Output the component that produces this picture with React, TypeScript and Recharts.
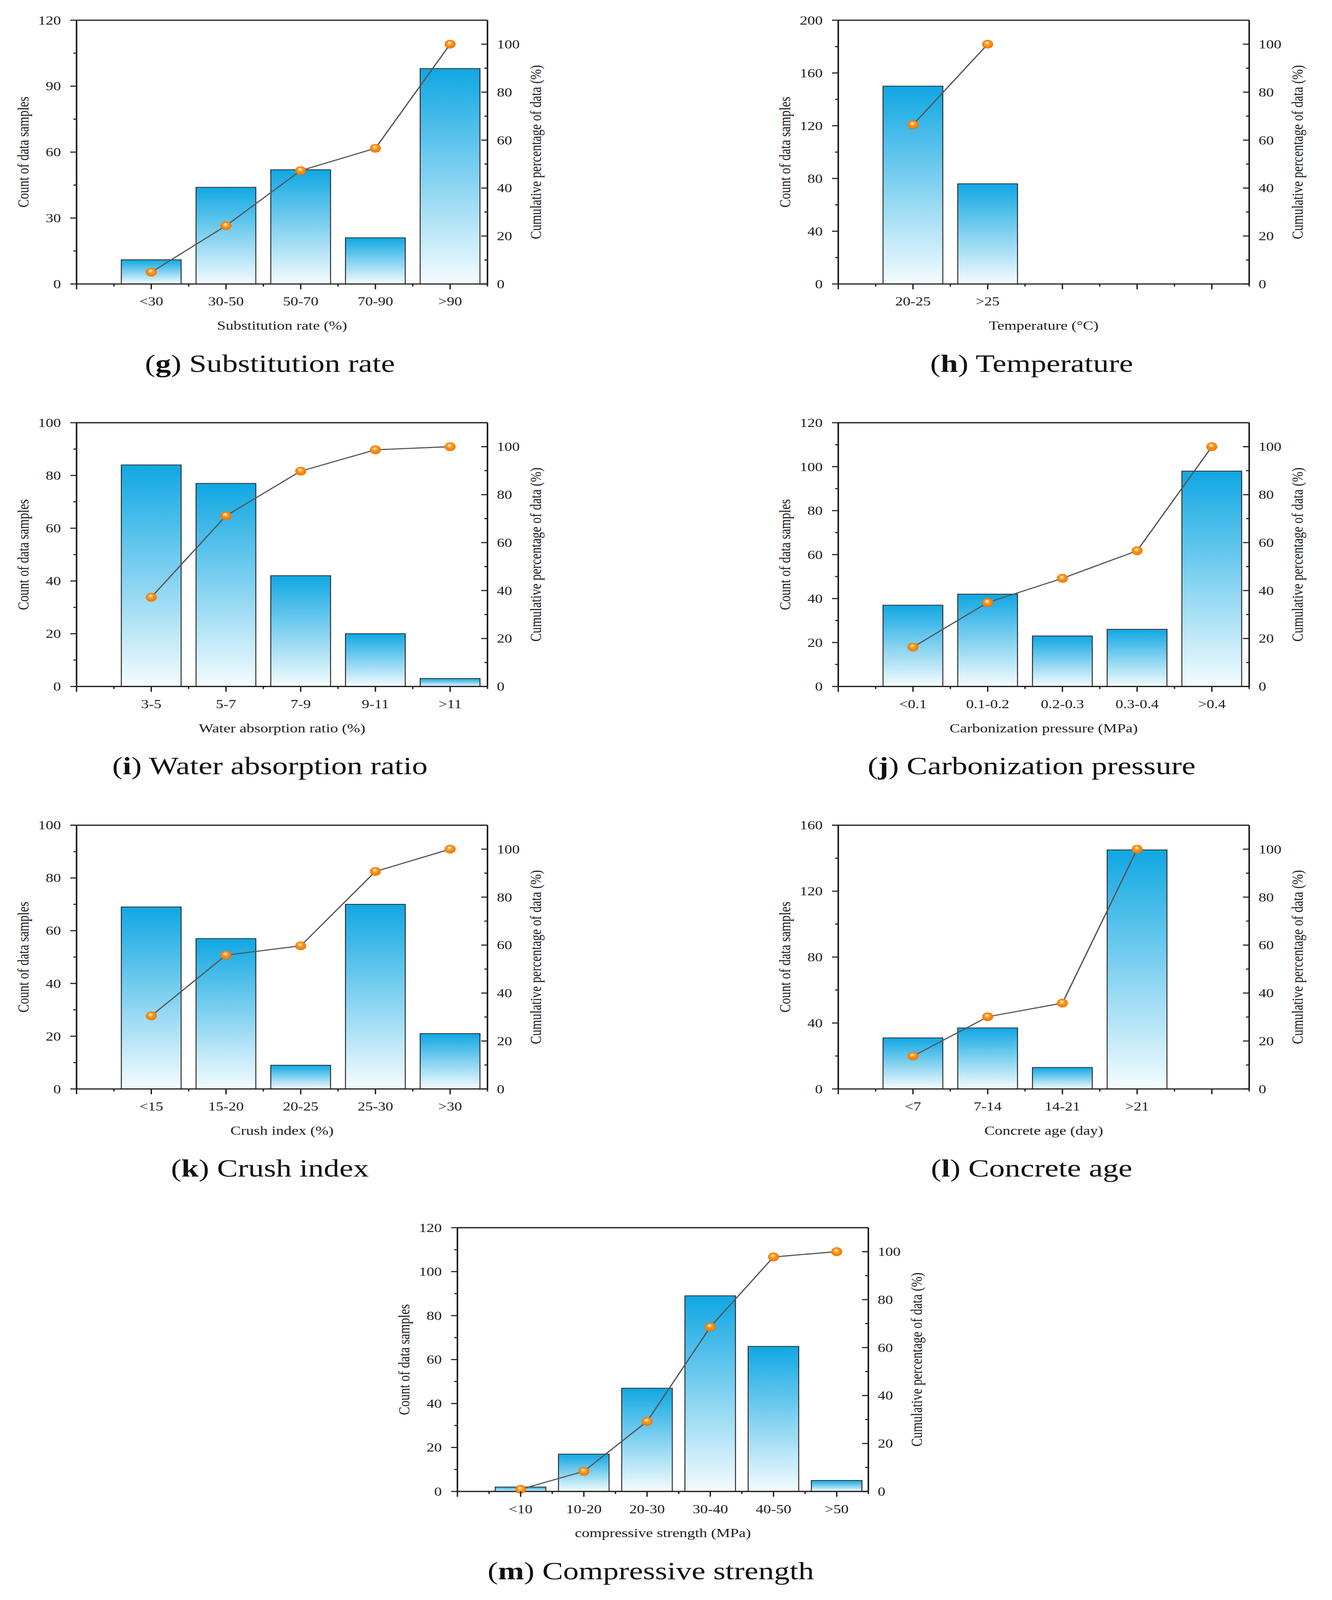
import React, { useEffect, useState } from 'react'
import { ComposedChart, Bar, Line, XAxis, YAxis, ReferenceLine, Label } from 'recharts'

// ---- data ----
const subCats = ['<30', '30-50', '50-70', '70-90', '>90']
const subCounts = [11, 44, 52, 21, 98]
const subCum = [4.9, 24.3, 47.3, 56.6, 100]
const subLeftTicks = [0, 30, 60, 90, 120]
const subLeftMinor = [15, 45, 75, 105]

const tempCats = ['20-25', '>25']
const tempCounts = [150, 76]
const tempCum = [66.4, 100]
const tempLeftTicks = [0, 40, 80, 120, 160, 200]
const tempLeftMinor = [20, 60, 100, 140, 180]

const waterCats = ['3-5', '5-7', '7-9', '9-11', '>11']
const waterCounts = [84, 77, 42, 20, 3]
const waterCum = [37.2, 71.2, 89.8, 98.7, 100]
const waterLeftTicks = [0, 20, 40, 60, 80, 100]
const waterLeftMinor = [10, 30, 50, 70, 90]

const carbCats = ['<0.1', '0.1-0.2', '0.2-0.3', '0.3-0.4', '>0.4']
const carbCounts = [37, 42, 23, 26, 98]
const carbCum = [16.4, 35.0, 45.1, 56.6, 100]
const carbLeftTicks = [0, 20, 40, 60, 80, 100, 120]
const carbLeftMinor = [10, 30, 50, 70, 90, 110]

const crushCats = ['<15', '15-20', '20-25', '25-30', '>30']
const crushCounts = [69, 57, 9, 70, 21]
const crushCum = [30.5, 55.8, 59.7, 90.7, 100]
const crushLeftTicks = [0, 20, 40, 60, 80, 100]
const crushLeftMinor = [10, 30, 50, 70, 90]

const ageCats = ['<7', '7-14', '14-21', '>21']
const ageCounts = [31, 37, 13, 145]
const ageCum = [13.7, 30.1, 35.8, 100]
const ageLeftTicks = [0, 40, 80, 120, 160]
const ageLeftMinor = [20, 60, 100, 140]

const strCats = ['<10', '10-20', '20-30', '30-40', '40-50', '>50']
const strCounts = [2, 17, 47, 89, 66, 5]
const strCum = [0.9, 8.4, 29.2, 68.6, 97.8, 100]
const strLeftTicks = [0, 20, 40, 60, 80, 100, 120]
const strLeftMinor = [10, 30, 50, 70, 90, 110]

const pctTicks = [0, 20, 40, 60, 80, 100]
const pctMinor = [10, 30, 50, 70, 90]
const pctMax = 110

const xMajor5 = [0, 1, 2, 3, 4, 5]
const xMinor5 = [0.5, 1.5, 2.5, 3.5, 4.5, 5.5]
const xMajor6 = [0, 1, 2, 3, 4, 5, 6]
const xMinor6 = [0.5, 1.5, 2.5, 3.5, 4.5, 5.5, 6.5]

// ---- layout ----
const PAGE_W = 3410
const PAGE_H = 5144
const PLOT_W = 1052
const PLOT_H = 848
const AXIS_W = 180
const M = { top: 40, right: 20, bottom: 10, left: 20 }
const XAXIS_H = 200
const CHART_W = M.left + AXIS_W + PLOT_W + AXIS_W + M.right
const CHART_H = M.top + PLOT_H + XAXIS_H + M.bottom

const FONT = '"Liberation Serif", "Times New Roman", serif'
const INK = '#1e1e1e'
const AXIS_STROKE = 4
const T_MAJOR = 16
const T_MINOR = 8
const T_GAP_L = 24
const T_GAP_R = 8
const T_GAP_B = 25

const COL = [196, 2146]
const ROW = [65, 1359, 2653, 3947]

const panels = [
  { id: 'g', caption: 'Substitution rate', xLabel: 'Substitution rate (%)', cats: subCats, counts: subCounts, cum: subCum, lt: subLeftTicks, lm: subLeftMinor, xMax: 5.5, xMj: xMajor5, xMn: xMinor5, left: COL[0], top: ROW[0] },
  { id: 'h', caption: 'Temperature', xLabel: 'Temperature (°C)', cats: tempCats, counts: tempCounts, cum: tempCum, lt: tempLeftTicks, lm: tempLeftMinor, xMax: 5.5, xMj: xMajor5, xMn: xMinor5, left: COL[1], top: ROW[0] },
  { id: 'i', caption: 'Water absorption ratio', xLabel: 'Water absorption ratio (%)', cats: waterCats, counts: waterCounts, cum: waterCum, lt: waterLeftTicks, lm: waterLeftMinor, xMax: 5.5, xMj: xMajor5, xMn: xMinor5, left: COL[0], top: ROW[1] },
  { id: 'j', caption: 'Carbonization pressure', xLabel: 'Carbonization pressure (MPa)', cats: carbCats, counts: carbCounts, cum: carbCum, lt: carbLeftTicks, lm: carbLeftMinor, xMax: 5.5, xMj: xMajor5, xMn: xMinor5, left: COL[1], top: ROW[1] },
  { id: 'k', caption: 'Crush index', xLabel: 'Crush index (%)', cats: crushCats, counts: crushCounts, cum: crushCum, lt: crushLeftTicks, lm: crushLeftMinor, xMax: 5.5, xMj: xMajor5, xMn: xMinor5, left: COL[0], top: ROW[2] },
  { id: 'l', caption: 'Concrete age', xLabel: 'Concrete age (day)', cats: ageCats, counts: ageCounts, cum: ageCum, lt: ageLeftTicks, lm: ageLeftMinor, xMax: 5.5, xMj: xMajor5, xMn: xMinor5, left: COL[1], top: ROW[2] },
  { id: 'm', caption: 'Compressive strength', xLabel: 'compressive strength (MPa)', cats: strCats, counts: strCounts, cum: strCum, lt: strLeftTicks, lm: strLeftMinor, xMax: 6.5, xMj: xMajor6, xMn: xMinor6, left: 1171, top: ROW[3] },
]

const tickText = { fontFamily: FONT, fontSize: 39, fill: INK }

function LeftTick({ x, y, payload, majors }: any) {
  const v = payload.value
  const major = majors.includes(v)
  const ax = x + T_MAJOR + T_GAP_L
  return (
    <g>
      <line x1={ax - (major ? T_MAJOR : T_MINOR)} x2={ax} y1={y} y2={y} stroke={INK} strokeWidth={3.5} />
      {major && <text x={x} y={y} dy="0.35em" textAnchor="end" style={tickText}>{v}</text>}
    </g>
  )
}

function RightTick({ x, y, payload }: any) {
  const v = payload.value
  const major = pctTicks.includes(v)
  const ax = x - T_MAJOR - T_GAP_R
  return (
    <g>
      <line x1={ax - (major ? T_MAJOR : T_MINOR)} x2={ax} y1={y} y2={y} stroke={INK} strokeWidth={3.5} />
      {major && <text x={ax + 24} y={y} dy="0.35em" textAnchor="start" style={tickText}>{v}</text>}
    </g>
  )
}

function BottomTick({ x, y, payload, cats }: any) {
  const v = payload.value
  const major = Number.isInteger(v)
  const ay = y - T_MAJOR - 1 - T_GAP_B
  const label = major && v >= 1 && v <= cats.length ? cats[v - 1] : null
  return (
    <g>
      <line x1={x} x2={x} y1={ay} y2={ay + (major ? T_MAJOR + 1 : T_MINOR)} stroke={INK} strokeWidth={3.5} />
      {label && <text x={x} y={y} dy="0.71em" textAnchor="middle" style={tickText}>{label}</text>}
    </g>
  )
}

function Orb({ cx, cy, index }: any) {
  return <circle key={`orb-${index}`} cx={cx} cy={cy} r={14} fill="url(#orbGrad)" />
}

function Panel({ p }: any) {
  const data = p.cats.map((c: string, i: number) => ({ pos: i + 1, name: c, count: p.counts[i], cum: p.cum[i] }))
  const yMax = p.lt[p.lt.length - 1]
  const leftAll = [...p.lt, ...p.lm].sort((a: number, b: number) => a - b)
  const rightAll = [...pctTicks, ...pctMinor].sort((a, b) => a - b)
  const xAll = [...p.xMj, ...p.xMn].sort((a: number, b: number) => a - b)
  const barSize = (PLOT_W / p.xMax) * 0.8
  const labelStyle = { fontFamily: FONT, fontSize: 40, fill: INK, textAnchor: 'middle' as const }
  return (
    <>
      <div style={{ position: 'absolute', left: p.left - M.left - AXIS_W, top: p.top - M.top }}>
        <ComposedChart width={CHART_W} height={CHART_H} data={data} margin={M}>
          <XAxis
            dataKey="pos"
            type="number"
            domain={[0, p.xMax]}
            ticks={xAll}
            interval={0}
            height={XAXIS_H}
            tickSize={T_MAJOR + 1}
            tickMargin={T_GAP_B}
            tickLine={false}
            axisLine={{ stroke: INK, strokeWidth: AXIS_STROKE }}
            tick={(props: any) => <BottomTick {...props} cats={p.cats} />}
          >
            <Label value={p.xLabel} position="insideTop" offset={119} style={labelStyle} />
          </XAxis>
          <YAxis
            yAxisId="left"
            orientation="left"
            width={AXIS_W}
            domain={[0, yMax]}
            ticks={leftAll}
            interval={0}
            tickSize={T_MAJOR}
            tickMargin={T_GAP_L}
            tickLine={false}
            axisLine={{ stroke: INK, strokeWidth: AXIS_STROKE }}
            tick={(props: any) => <LeftTick {...props} majors={p.lt} />}
          >
            <Label value="Count of data samples" position="insideLeft" angle={-90} offset={43} style={labelStyle} />
          </YAxis>
          <YAxis
            yAxisId="right"
            orientation="right"
            width={AXIS_W}
            domain={[0, pctMax]}
            ticks={rightAll}
            interval={0}
            tickSize={T_MAJOR}
            tickMargin={T_GAP_R}
            tickLine={false}
            axisLine={{ stroke: INK, strokeWidth: AXIS_STROKE }}
            tick={(props: any) => <RightTick {...props} />}
          >
            <Label value="Cumulative percentage of data (%)" position="insideRight" angle={-90} offset={57} style={labelStyle} />
          </YAxis>
          <ReferenceLine yAxisId="left" y={yMax} stroke={INK} strokeWidth={AXIS_STROKE} />
          <Bar yAxisId="left" dataKey="count" barSize={barSize} fill="url(#barGrad)" stroke="#2e2e2e" strokeWidth={2.5} isAnimationActive={false} />
          <Line
            yAxisId="right"
            dataKey="cum"
            type="linear"
            stroke="#555555"
            strokeWidth={3.5}
            dot={(props: any) => <Orb {...props} />}
            activeDot={false}
            isAnimationActive={false}
          />
        </ComposedChart>
      </div>
      <div
        style={{
          position: 'absolute',
          left: p.left + 495 - 700,
          width: 1400,
          top: p.top + PLOT_H + 282 - 67,
          textAlign: 'center',
          fontFamily: FONT,
          fontSize: 80,
          lineHeight: 1,
          color: '#111',
          whiteSpace: 'nowrap',
        }}
      >
        (<b>{p.id}</b>) {p.caption}
      </div>
    </>
  )
}

export default function App() {
  // the visible window can be shorter than the figure; squeeze it vertically so all panels stay in view
  const [ky, setKy] = useState(1)
  useEffect(() => {
    setKy(Math.min(1, window.innerHeight / PAGE_H))
  }, [])
  return (
    <div style={{ position: 'relative', margin: -8, width: PAGE_W, height: Math.floor(PAGE_H * ky), overflow: 'hidden', background: '#fff' }}>
      <div style={{ position: 'absolute', left: 0, top: 0, width: PAGE_W, height: PAGE_H, transform: `scale(1, ${ky})`, transformOrigin: '0 0' }}>
        <svg width={0} height={0} style={{ position: 'absolute' }}>
          <defs>
            <linearGradient id="barGrad" x1="0" y1="0" x2="0" y2="1">
              <stop offset="0%" stopColor="#10a7e3" />
              <stop offset="100%" stopColor="#f4fcfe" />
            </linearGradient>
            <radialGradient id="orbGrad" cx="50%" cy="50%" r="50%" fx="42%" fy="30%">
              <stop offset="0%" stopColor="#ffffff" />
              <stop offset="20%" stopColor="#ffd49a" />
              <stop offset="50%" stopColor="#ff9516" />
              <stop offset="85%" stopColor="#ff7f00" />
              <stop offset="100%" stopColor="#e66c00" />
            </radialGradient>
          </defs>
        </svg>
        {panels.map((p) => (
          <Panel key={p.id} p={p} />
        ))}
      </div>
    </div>
  )
}
